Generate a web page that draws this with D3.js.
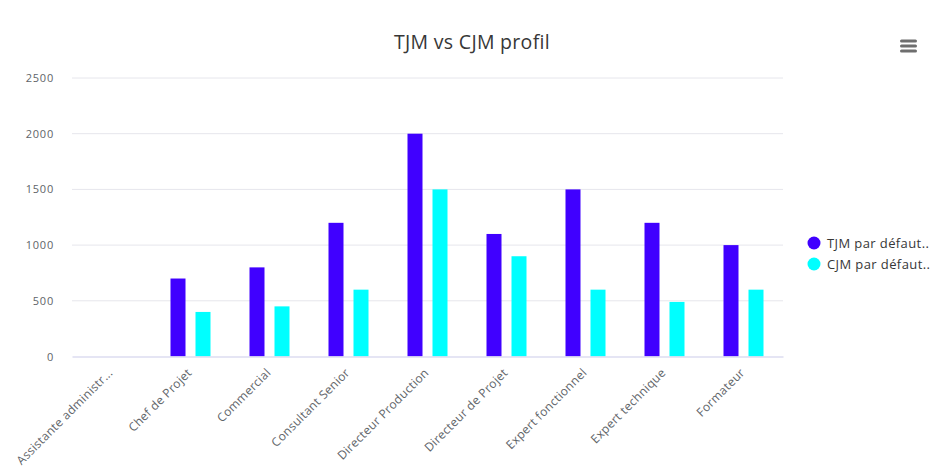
<!DOCTYPE html>
<html>
 <head>
  <meta charset="utf-8">
  <title>TJM vs CJM profil</title>
  <style>
  body {
   margin: 0;
   background: #fff;
   font-family: "Open Sans", sans-serif;
  }
  </style>
 </head>
 <body>
  <script src="https://cdnjs.cloudflare.com/ajax/libs/d3/7.8.3/d3.min.js"></script>
  <script>
   const categories = ["Assistante administr...", "Chef de Projet", "Commercial", "Consultant Senior",
                       "Directeur Production", "Directeur de Projet", "Expert fonctionnel",
                       "Expert technique", "Formateur"];
   const seriesNames = ["TJM par défaut..", "CJM par défaut.."];
   const tjm = [0, 700, 800, 1200, 2000, 1100, 1500, 1200, 1000];
   const cjm = [0, 400, 450, 600, 1500, 900, 600, 490, 600];
   const yTicks = [0, 500, 1000, 1500, 2000, 2500];
   const colors = ["#4000ff", "#00ffff"];

   const w = 938, h = 476;
   const plotL = 72, plotR = 783, plotT = 78, plotB = 356.5;

   const svg = d3.select("body").append("svg")
                 .attr("width", w)
                 .attr("height", h);

   const x = d3.scaleBand()
               .domain(categories)
               .range([plotL, plotR])
               .padding(0);
   const inner = d3.scaleBand()
                   .domain(seriesNames)
                   .range([-20, 20])
                   .paddingInner(0.4);
   const y = d3.scaleLinear()
               .domain([0, 2500])
               .range([plotB, plotT]);

   // grid
   svg.append("g")
      .selectAll("line")
      .data(yTicks.slice(1))
      .enter()
      .append("line")
      .attr("x1", plotL).attr("x2", plotR)
      .attr("y1", d => y(d)).attr("y2", d => y(d))
      .attr("stroke", "#e6e6ec");

   // y axis
   const yAxis = d3.axisLeft(y).tickValues(yTicks).tickFormat(d3.format("d")).tickSize(0).tickPadding(0);
   svg.append("g")
      .attr("transform", "translate(54,0)")
      .call(yAxis)
      .call(g => g.select(".domain").remove())
      .selectAll("text")
      .attr("fill", "#606468")
      .style("font-family", "Open Sans")
      .style("font-size", "11px")
      .style("letter-spacing", "0.8px");

   // bars
   const rows = categories.map((c, i) => ({cat: c, vals: [tjm[i], cjm[i]]}));
   const groups = svg.append("g")
      .selectAll("g")
      .data(rows)
      .enter()
      .append("g")
      .attr("transform", d => "translate(" + (x(d.cat) + x.bandwidth() / 2) + ",0)");
   groups.selectAll("rect")
      .data(d => d.vals.map((v, k) => ({name: seriesNames[k], v: v, k: k})))
      .enter()
      .append("rect")
      .attr("x", d => inner(d.name))
      .attr("width", inner.bandwidth())
      .attr("y", d => y(d.v))
      .attr("height", d => y(0) - y(d.v))
      .attr("fill", d => colors[d.k]);

   // x axis
   const xAxis = d3.axisBottom(x).tickSize(0).tickPadding(0);
   const xg = svg.append("g")
      .attr("transform", "translate(0," + plotB + ")")
      .call(xAxis);
   xg.select(".domain").attr("stroke", "#dcdcf0").attr("stroke-width", 1.5);
   xg.selectAll("text")
     .attr("fill", "#606468")
     .style("font-family", "Open Sans")
     .style("font-size", "12px")
     .style("letter-spacing", "0.3px")
     .attr("text-anchor", "end")
     .attr("dy", 0)
     .attr("transform", "translate(2,17) rotate(-45)");

   // title
   svg.append("text")
      .attr("x", 472).attr("y", 49)
      .attr("text-anchor", "middle")
      .attr("fill", "#373737")
      .style("font-family", "Open Sans")
      .style("font-size", "19.5px")
      .style("letter-spacing", "0.3px")
      .text("TJM vs CJM profil");

   // legend
   const leg = svg.append("g")
      .selectAll("g")
      .data(seriesNames)
      .enter()
      .append("g")
      .attr("transform", (d, i) => "translate(814," + (243 + i * 21) + ")");
   leg.append("circle").attr("r", 6.5).attr("fill", (d, i) => colors[i]);
   leg.append("text")
      .attr("x", 13).attr("y", 4.5)
      .attr("fill", "#373737")
      .style("font-family", "Open Sans")
      .style("font-size", "13px")
      .style("letter-spacing", "0.4px")
      .text(d => d);

   // menu icon
   svg.append("g")
      .selectAll("rect")
      .data([0, 1, 2])
      .enter()
      .append("rect")
      .attr("x", 900).attr("y", d => 39.5 + d * 5)
      .attr("width", 17).attr("height", 3)
      .attr("rx", 1.5)
      .attr("fill", "#6e6e6e");
  </script>
 </body>
</html>
